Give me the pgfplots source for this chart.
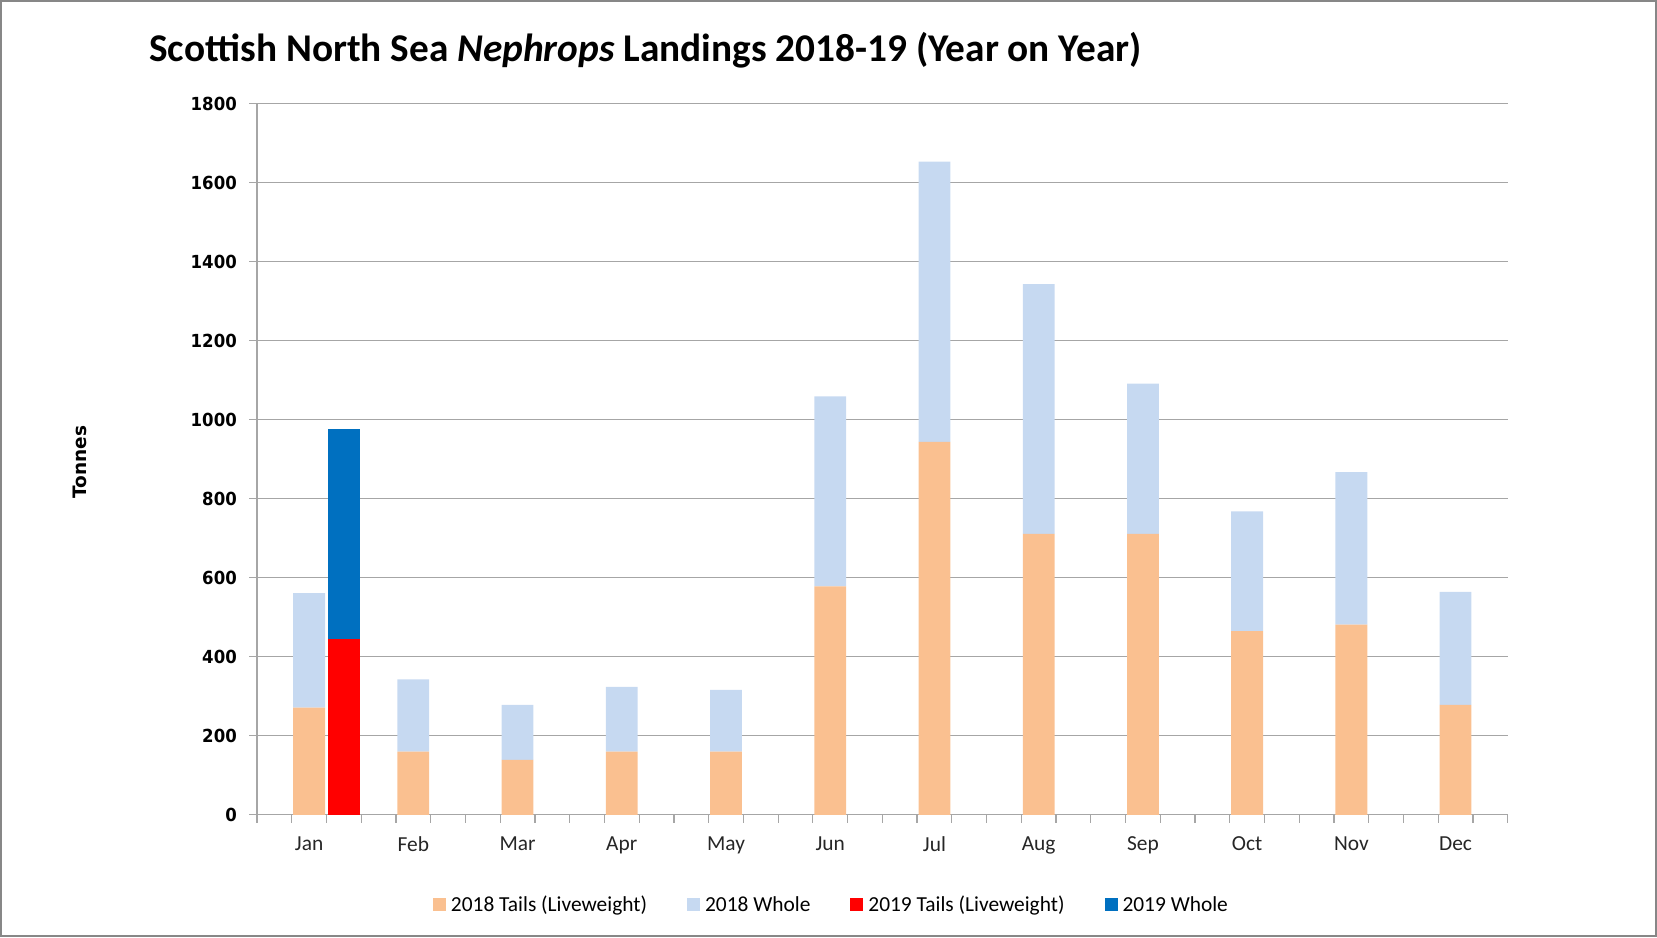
\documentclass[border=0pt]{standalone}
\usepackage{pgfplots}
\pgfplotsset{compat=1.18}
\usepackage{fontspec}
\setmainfont{Carlito}
\newfontfamily\dv{DejaVu Sans}
\newfontfamily\dvn[FakeStretch=0.92]{DejaVu Sans}

\definecolor{tails18}{HTML}{FAC090}
\definecolor{whole18}{HTML}{C6D9F1}
\definecolor{tails19}{HTML}{FF0000}
\definecolor{whole19}{HTML}{0070C0}
\definecolor{gridgray}{HTML}{A6A6A6}
\definecolor{framegray}{HTML}{878787}

% slot positions: 3 slots per month, 2018 bar in the middle slot, 2019 bar next to it
\pgfplotstableread{
x    t18  w18  t19  w19
1    271  290  0    0
2    0    0    445  531
4    160  183  0    0
7    139  139  0    0
10   160  164  0    0
13   160  156  0    0
16   578  481  0    0
19   944  709  0    0
22   711  632  0    0
25   711  380  0    0
28   465  303  0    0
31   481  386  0    0
34   278  286  0    0
}\landings

\begin{document}
\begin{tikzpicture}
\useasboundingbox (0,0) rectangle (1657pt,937pt);
\draw[line width=2pt, framegray] (1pt,1pt) rectangle (1656pt,936pt);
\begin{axis}[
    at={(257pt,122.2pt)}, anchor=south west,
    scale only axis,
    width=1250.7pt, height=711.2pt,
    ybar stacked,
    bar width=0.915,
    xmin=-0.5, xmax=35.5,
    ymin=0, ymax=1800,
    ytick={0,200,...,1800},
    xtick={1,4,...,34},
    xticklabels={Jan,Feb,Mar,Apr,May,Jun,Jul,Aug,Sep,Oct,Nov,Dec},
    minor xtick={-0.5,0.5,...,35.5},
    major x tick style={draw=none},
    tick align=outside,
    major tick length=8pt,
    minor tick length=8pt,
    tick style={gridgray, line width=1.2pt},
    axis x line*=bottom,
    axis y line*=left,
    axis line style={gridgray, line width=1.2pt, -},
    ymajorgrids,
    grid style={gridgray, line width=1.2pt},
    /pgf/number format/1000 sep={},
    /pgf/number format/assume math mode=true,
    yticklabel style={font=\dvn\bfseries\fontsize{18}{22}\selectfont, inner sep=0pt, xshift=-12pt},
    xticklabel style={font=\fontsize{21.4}{26}\selectfont, text=black!85, inner sep=0pt, yshift=-13.5pt},
    title={Scottish North Sea \textit{Nephrops} Landings 2018-19 (Year on Year)},
    title style={font=\bfseries\fontsize{39.3}{46}\selectfont, at={(axis description cs:-0.0862,1.066)}, anchor=west, inner sep=0pt},
    ylabel={Tonnes},
    ylabel style={font=\dv\bfseries\fontsize{18.5}{22}\selectfont, at={(axis description cs:-0.1419,0.496)}, anchor=center, inner sep=0pt},
    legend columns=4,
    legend style={at={(axis description cs:0.4605,-0.1263)}, anchor=center, draw=none,
        font=\fontsize{21.4}{26}\selectfont,
        nodes={inner xsep=5pt},
        /tikz/every even column/.append style={column sep=35pt}},
    legend image code/.code={\fill[#1] (0pt,-6.5pt) rectangle (13pt,6.5pt);},
]
\addplot[fill=tails18, draw=none] table[x=x, y=t18] {\landings};
\addplot[fill=whole18, draw=none] table[x=x, y=w18] {\landings};
\addplot[fill=tails19, draw=none] table[x=x, y=t19] {\landings};
\addplot[fill=whole19, draw=none] table[x=x, y=w19] {\landings};
\legend{2018 Tails (Liveweight), 2018 Whole, 2019 Tails (Liveweight), 2019 Whole}
\end{axis}
\end{tikzpicture}
\end{document}
